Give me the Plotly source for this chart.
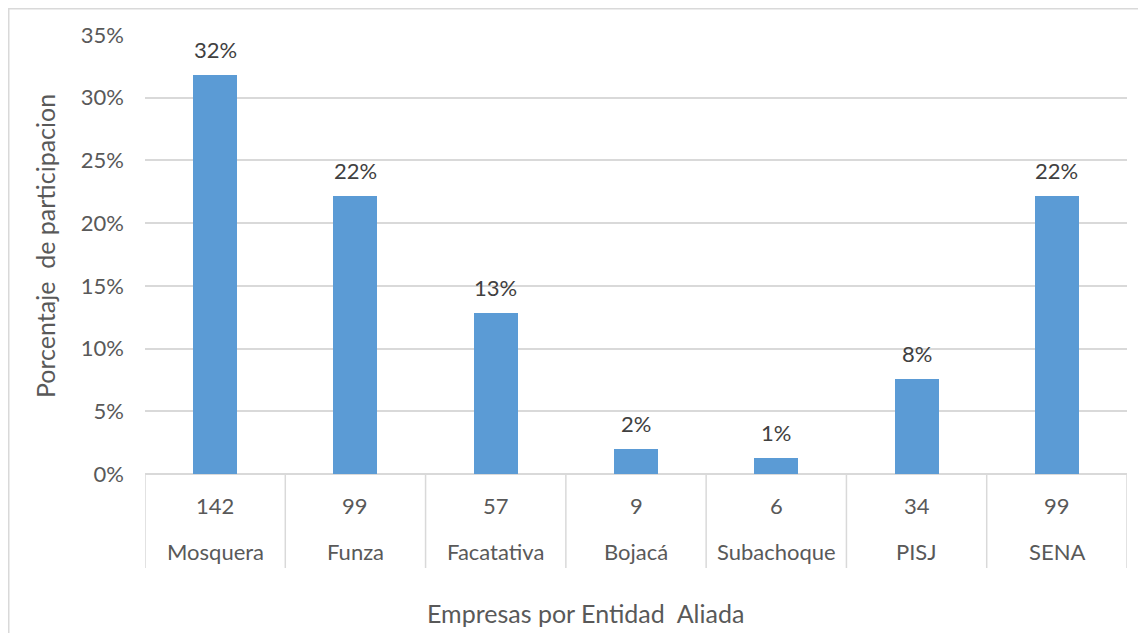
import plotly.graph_objects as go

categories = ["Mosquera", "Funza", "Facatativa", "Bojacá", "Subachoque", "PISJ", "SENA"]
counts = [142, 99, 57, 9, 6, 34, 99]
percentages = [0.318, 0.222, 0.128, 0.020, 0.013, 0.076, 0.222]
pct_labels = ["32%", "22%", "13%", "2%", "1%", "8%", "22%"]
y_ticks = [0, 0.05, 0.10, 0.15, 0.20, 0.25, 0.30, 0.35]
y_ticktext = ["0%", "5%", "10%", "15%", "20%", "25%", "30%", "35%"]

FONT = "Lato"
OFF = 8  # page body margin
W, H = 1146 - OFF, 633 - OFF
L, T = 145 - OFF, 35 - OFF
R = W - (1127 - OFF)
B = H - (474 - OFF)
pw, ph = W - L - R, H - T - B

def px_x(px):
    return (px - OFF - L) / pw

def px_y(py):
    return (H - B - (py - OFF)) / ph

xs = list(range(len(categories)))

fig = go.Figure()
fig.add_trace(go.Bar(
    x=xs, y=percentages, width=0.314,
    marker=dict(color="#5b9bd5", line=dict(width=0)),
    hoverinfo="skip",
))

annotations = []
for i, (p, lab) in enumerate(zip(percentages, pct_labels)):
    annotations.append(dict(x=i, y=p, xref="x", yref="y", text=lab, showarrow=False,
                            yanchor="bottom", yshift=10,
                            font=dict(family=FONT, size=22, color="#404040")))
for i, (c, name) in enumerate(zip(counts, categories)):
    annotations.append(dict(x=i, y=px_y(505), xref="x", yref="paper", text=str(c), showarrow=False,
                            yanchor="middle", font=dict(family=FONT, size=22, color="#595959")))
    annotations.append(dict(x=i, y=px_y(551), xref="x", yref="paper", text=name, showarrow=False,
                            yanchor="middle", font=dict(family=FONT, size=22, color="#595959")))
annotations.append(dict(x=px_x(45), y=px_y(246), xref="paper", yref="paper",
                        text="Porcentaje  de participacion", textangle=-90, showarrow=False,
                        xanchor="center", yanchor="middle",
                        font=dict(family=FONT, size=25, color="#595959")))
annotations.append(dict(x=px_x(585), y=px_y(613), xref="paper", yref="paper",
                        text="Empresas por Entidad  Aliada", showarrow=False,
                        xanchor="center", yanchor="middle",
                        font=dict(family=FONT, size=25, color="#595959")))

shapes = []
for k in range(len(categories) + 1):
    shapes.append(dict(type="line", xref="x", yref="paper", x0=k - 0.5, x1=k - 0.5,
                       y0=0, y1=px_y(568), line=dict(color="#d9d9d9", width=1.5)))
shapes.append(dict(type="rect", xref="paper", yref="paper",
                   x0=px_x(OFF + 0.75), x1=px_x(1160), y0=px_y(OFF + 0.75), y1=px_y(660),
                   line=dict(color="#d9d9d9", width=1.5)))

fig.update_layout(
    width=W, height=H,
    margin=dict(l=L, r=R, t=T, b=B),
    paper_bgcolor="white", plot_bgcolor="white",
    showlegend=False,
    bargap=0,
    xaxis=dict(range=[-0.5, len(categories) - 0.5], showticklabels=False, showgrid=False,
               zeroline=False, showline=False, ticks="", fixedrange=True),
    yaxis=dict(range=[0, 0.35], tickvals=y_ticks, ticktext=y_ticktext,
               showgrid=True, gridcolor="#d9d9d9", gridwidth=1.5,
               zeroline=True, zerolinecolor="#d9d9d9", zerolinewidth=1.5,
               showline=False, ticks="", ticklabelstandoff=20,
               tickfont=dict(family=FONT, size=22, color="#595959"), fixedrange=True),
    annotations=annotations,
    shapes=shapes,
)

fig.write_html("out.html")
